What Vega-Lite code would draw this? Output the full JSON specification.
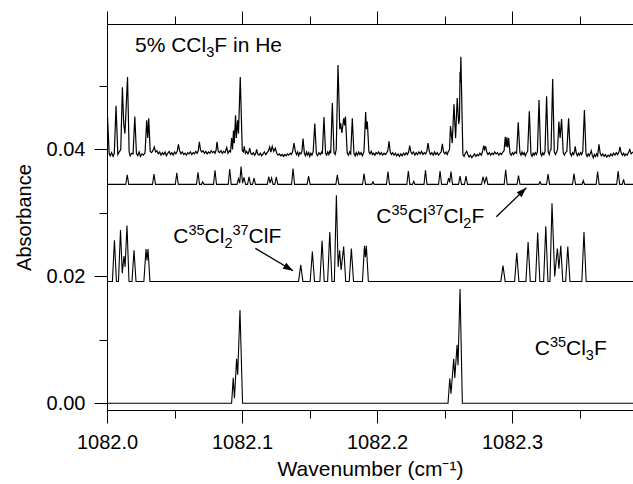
{
  "$schema": "https://vega.github.io/schema/vega-lite/v6.json",
  "autosize": "none",
  "width": 526,
  "height": 386,
  "padding": {"left": 107, "top": 24, "right": 0, "bottom": 74},
  "background": "white",
  "config": {
    "view": {"stroke": null},
    "axis": {"domainColor": "black", "domainWidth": 1, "tickColor": "black", "tickWidth": 1, "labelColor": "black", "labelFont": "Liberation Sans", "labelFontSize": 20, "titleFont": "Liberation Sans", "titleFontSize": 20, "titleFontWeight": "normal", "titleColor": "black", "grid": false, "labelFlush": false, "labelOverlap": false},
    "text": {"font": "Liberation Sans", "color": "black"}
  },
  "datasets": {
    "s4": [
      {"w":1082.0,"a":0},{"w":1082.0923,"a":0},{"w":1082.0935,"a":0.004},{"w":1082.0944,"a":0.0008},{"w":1082.096,"a":0.007},{"w":1082.0968,"a":0.0045},{"w":1082.0985,"a":0.0147},{"w":1082.1004,"a":0},
      {"w":1082.2526,"a":0},{"w":1082.2539,"a":0.0039},{"w":1082.2548,"a":0.0015},{"w":1082.2568,"a":0.007},{"w":1082.2576,"a":0.004},{"w":1082.2593,"a":0.0092},{"w":1082.26,"a":0.006},{"w":1082.2615,"a":0.018},{"w":1082.2632,"a":0},{"w":1082.3896,"a":0}
    ],
    "s3": [
      {"w":1082.0,"a":0.0192},{"w":1082.004,"a":0.0192},{"w":1082.0055,"a":0.0257},{"w":1082.007,"a":0.0192},{"w":1082.0085,"a":0.0192},{"w":1082.01,"a":0.0273},{"w":1082.0113,"a":0.0205},{"w":1082.0126,"a":0.0232},{"w":1082.0134,"a":0.0215},{"w":1082.0148,"a":0.028},{"w":1082.0163,"a":0.0192},
      {"w":1082.0185,"a":0.0192},{"w":1082.02,"a":0.0241},{"w":1082.0215,"a":0.0192},{"w":1082.0273,"a":0.0192},{"w":1082.0289,"a":0.0243},{"w":1082.0296,"a":0.0225},{"w":1082.0304,"a":0.0243},{"w":1082.0318,"a":0.0192},
      {"w":1082.1419,"a":0.0192},{"w":1082.1435,"a":0.0218},{"w":1082.1451,"a":0.0192},{"w":1082.1505,"a":0.0192},{"w":1082.1521,"a":0.0239},{"w":1082.1537,"a":0.0192},{"w":1082.1577,"a":0.0192},{"w":1082.1593,"a":0.0256},{"w":1082.1609,"a":0.0192},
      {"w":1082.1634,"a":0.0192},{"w":1082.165,"a":0.027},{"w":1082.1666,"a":0.0192},{"w":1082.1684,"a":0.0192},{"w":1082.1699,"a":0.0328},{"w":1082.1712,"a":0.0215},{"w":1082.1723,"a":0.0241},{"w":1082.1734,"a":0.021},{"w":1082.1753,"a":0.0247},{"w":1082.1768,"a":0.0192},
      {"w":1082.1794,"a":0.0192},{"w":1082.181,"a":0.0244},{"w":1082.1826,"a":0.0192},{"w":1082.1892,"a":0.0192},{"w":1082.1907,"a":0.0248},{"w":1082.1914,"a":0.023},{"w":1082.1921,"a":0.0248},{"w":1082.1936,"a":0.0192},
      {"w":1082.2917,"a":0.0192},{"w":1082.2933,"a":0.0217},{"w":1082.2949,"a":0.0192},{"w":1082.3019,"a":0.0192},{"w":1082.3035,"a":0.0237},{"w":1082.3051,"a":0.0192},{"w":1082.3103,"a":0.0192},{"w":1082.3119,"a":0.0254},{"w":1082.3135,"a":0.0192},
      {"w":1082.3174,"a":0.0192},{"w":1082.319,"a":0.0269},{"w":1082.3206,"a":0.0192},{"w":1082.3234,"a":0.0192},{"w":1082.325,"a":0.0279},{"w":1082.3266,"a":0.0192},{"w":1082.3281,"a":0.0192},{"w":1082.3296,"a":0.0315},{"w":1082.3316,"a":0.02},
      {"w":1082.3336,"a":0.0244},{"w":1082.3347,"a":0.0212},{"w":1082.3361,"a":0.0248},{"w":1082.3376,"a":0.0192},{"w":1082.3397,"a":0.0192},{"w":1082.3413,"a":0.0247},{"w":1082.3429,"a":0.0192},{"w":1082.3517,"a":0.0192},{"w":1082.3533,"a":0.027},{"w":1082.3549,"a":0.0192},{"w":1082.3896,"a":0.0192}
    ],
    "s2": [
      {"w":1082.0,"a":0.0345},{"w":1082.0139,"a":0.0345},{"w":1082.015,"a":0.036},{"w":1082.0161,"a":0.0345},{"w":1082.0337,"a":0.0345},{"w":1082.0348,"a":0.0361},{"w":1082.0359,"a":0.0345},
      {"w":1082.0506,"a":0.0345},{"w":1082.0517,"a":0.0363},{"w":1082.0528,"a":0.0345},{"w":1082.0663,"a":0.0345},{"w":1082.0674,"a":0.0364},{"w":1082.0685,"a":0.0345},{"w":1082.07,"a":0.0345},{"w":1082.0709,"a":0.0349},{"w":1082.0718,"a":0.0345},
      {"w":1082.0789,"a":0.0345},{"w":1082.08,"a":0.0367},{"w":1082.0811,"a":0.0345},{"w":1082.0898,"a":0.0345},{"w":1082.0909,"a":0.0369},{"w":1082.092,"a":0.0345},
      {"w":1082.0963,"a":0.0345},{"w":1082.0974,"a":0.0354},{"w":1082.0983,"a":0.0347},{"w":1082.0993,"a":0.0373},{"w":1082.1004,"a":0.0347},{"w":1082.1015,"a":0.0356},{"w":1082.1026,"a":0.0345},
      {"w":1082.1041,"a":0.0345},{"w":1082.1052,"a":0.0357},{"w":1082.1063,"a":0.0345},{"w":1082.1078,"a":0.0345},{"w":1082.1089,"a":0.0355},{"w":1082.11,"a":0.0345},
      {"w":1082.1187,"a":0.0345},{"w":1082.1198,"a":0.0357},{"w":1082.1208,"a":0.0347},{"w":1082.1219,"a":0.0355},{"w":1082.123,"a":0.0345},{"w":1082.1243,"a":0.0345},{"w":1082.1254,"a":0.0357},{"w":1082.1265,"a":0.0345},
      {"w":1082.1367,"a":0.0345},{"w":1082.1378,"a":0.037},{"w":1082.1389,"a":0.0345},{"w":1082.1482,"a":0.0345},{"w":1082.1493,"a":0.0358},{"w":1082.1504,"a":0.0345},
      {"w":1082.1695,"a":0.0345},{"w":1082.1706,"a":0.036},{"w":1082.1717,"a":0.0345},{"w":1082.1893,"a":0.0345},{"w":1082.1904,"a":0.0362},{"w":1082.1915,"a":0.0345},{"w":1082.1961,"a":0.0345},{"w":1082.197,"a":0.0349},{"w":1082.1979,"a":0.0345},
      {"w":1082.207,"a":0.0345},{"w":1082.2081,"a":0.0365},{"w":1082.2092,"a":0.0345},{"w":1082.2221,"a":0.0345},{"w":1082.2232,"a":0.0366},{"w":1082.2243,"a":0.0345},{"w":1082.2263,"a":0.0345},{"w":1082.2272,"a":0.035},{"w":1082.2281,"a":0.0345},
      {"w":1082.2348,"a":0.0345},{"w":1082.2359,"a":0.0367},{"w":1082.237,"a":0.0345},{"w":1082.2456,"a":0.0345},{"w":1082.2467,"a":0.0366},{"w":1082.2478,"a":0.0345},
      {"w":1082.2519,"a":0.0345},{"w":1082.253,"a":0.0355},{"w":1082.2538,"a":0.0348},{"w":1082.2548,"a":0.0365},{"w":1082.2559,"a":0.0345},{"w":1082.2604,"a":0.0345},{"w":1082.2615,"a":0.0358},{"w":1082.2626,"a":0.0345},
      {"w":1082.2648,"a":0.0345},{"w":1082.2659,"a":0.0358},{"w":1082.267,"a":0.0345},{"w":1082.2774,"a":0.0345},{"w":1082.2785,"a":0.0357},{"w":1082.2797,"a":0.0347},{"w":1082.281,"a":0.0357},{"w":1082.2821,"a":0.0345},
      {"w":1082.2942,"a":0.0345},{"w":1082.2953,"a":0.0368},{"w":1082.2964,"a":0.0345},{"w":1082.3037,"a":0.0345},{"w":1082.3048,"a":0.0359},{"w":1082.3059,"a":0.0345},{"w":1082.3198,"a":0.0345},{"w":1082.3207,"a":0.0349},{"w":1082.3216,"a":0.0345},
      {"w":1082.3256,"a":0.0345},{"w":1082.3267,"a":0.0361},{"w":1082.3278,"a":0.0345},{"w":1082.3448,"a":0.0345},{"w":1082.3459,"a":0.0362},{"w":1082.347,"a":0.0345},{"w":1082.3519,"a":0.0345},{"w":1082.3528,"a":0.0351},{"w":1082.3537,"a":0.0345},
      {"w":1082.3623,"a":0.0345},{"w":1082.3634,"a":0.0365},{"w":1082.3645,"a":0.0345},{"w":1082.3775,"a":0.0345},{"w":1082.3786,"a":0.0366},{"w":1082.3797,"a":0.0345},{"w":1082.3817,"a":0.0345},{"w":1082.3826,"a":0.0353},{"w":1082.3835,"a":0.0345},{"w":1082.3896,"a":0.0345}
    ],
    "s1": [
      {"w":1082.0,"a":0.044},{"w":1082.0004,"a":0.0451},{"w":1082.0016,"a":0.0393},{"w":1082.0024,"a":0.039},{"w":1082.0034,"a":0.0395},{"w":1082.0045,"a":0.0389},{"w":1082.0054,"a":0.0394},{"w":1082.0067,"a":0.0469},{"w":1082.008,"a":0.0392},{"w":1082.009,"a":0.0396},{"w":1082.0102,"a":0.04},{"w":1082.0114,"a":0.0498},{"w":1082.0124,"a":0.044},{"w":1082.0133,"a":0.0425},{"w":1082.0152,"a":0.0514},{"w":1082.0164,"a":0.0396},{"w":1082.0172,"a":0.039},{"w":1082.0182,"a":0.0394},{"w":1082.0193,"a":0.0393},{"w":1082.0206,"a":0.0452},{"w":1082.0218,"a":0.0394},{"w":1082.0228,"a":0.039},{"w":1082.0238,"a":0.0396},{"w":1082.0248,"a":0.0389},{"w":1082.0259,"a":0.0393},{"w":1082.027,"a":0.0391},{"w":1082.0282,"a":0.0395},{"w":1082.0294,"a":0.0446},{"w":1082.0302,"a":0.0418},{"w":1082.0309,"a":0.0449},{"w":1082.032,"a":0.0397},
      {"w":1082.033,"a":0.0395},{"w":1082.034,"a":0.0398},{"w":1082.035,"a":0.0404},{"w":1082.036,"a":0.0396},{"w":1082.037,"a":0.0398},{"w":1082.038,"a":0.0393},{"w":1082.039,"a":0.0396},{"w":1082.04,"a":0.0391},{"w":1082.041,"a":0.0395},{"w":1082.042,"a":0.0392},{"w":1082.043,"a":0.0396},{"w":1082.044,"a":0.039},{"w":1082.045,"a":0.0394},{"w":1082.046,"a":0.0397},{"w":1082.047,"a":0.0392},{"w":1082.048,"a":0.0395},{"w":1082.049,"a":0.0391},{"w":1082.05,"a":0.0396},{"w":1082.051,"a":0.0393},{"w":1082.052,"a":0.0397},{"w":1082.0529,"a":0.0408},{"w":1082.0538,"a":0.0398},{"w":1082.0548,"a":0.0393},{"w":1082.0558,"a":0.0396},{"w":1082.0568,"a":0.0392},{"w":1082.0578,"a":0.0394},{"w":1082.0588,"a":0.0391},{"w":1082.0598,"a":0.0395},{"w":1082.0608,"a":0.0393},{"w":1082.0618,"a":0.0396},{"w":1082.0628,"a":0.0392},{"w":1082.0638,"a":0.0395},{"w":1082.0648,"a":0.0393},{"w":1082.0658,"a":0.0397},{"w":1082.0668,"a":0.0394},{"w":1082.0676,"a":0.0398},{"w":1082.0684,"a":0.0412},{"w":1082.0693,"a":0.0399},{"w":1082.0702,"a":0.0396},{"w":1082.0712,"a":0.0398},{"w":1082.0722,"a":0.0394},{"w":1082.0732,"a":0.0397},{"w":1082.0742,"a":0.0393},{"w":1082.0752,"a":0.0396},{"w":1082.0762,"a":0.0394},{"w":1082.0772,"a":0.0398},{"w":1082.0782,"a":0.0395},{"w":1082.0792,"a":0.0397},{"w":1082.08,"a":0.0394},{"w":1082.0808,"a":0.0399},{"w":1082.0815,"a":0.0412},{"w":1082.0824,"a":0.0397},{"w":1082.0834,"a":0.0395},{"w":1082.0844,"a":0.0398},{"w":1082.0854,"a":0.0394},{"w":1082.0864,"a":0.0397},{"w":1082.0874,"a":0.0395},{"w":1082.0887,"a":0.0403},{"w":1082.0896,"a":0.0394},{"w":1082.0906,"a":0.0398},{"w":1082.0915,"a":0.0396},
      {"w":1082.0923,"a":0.0418},{"w":1082.093,"a":0.04},{"w":1082.0937,"a":0.043},{"w":1082.0943,"a":0.041},{"w":1082.0952,"a":0.0454},{"w":1082.0958,"a":0.0418},{"w":1082.0967,"a":0.0446},{"w":1082.0974,"a":0.0425},{"w":1082.0987,"a":0.0514},{"w":1082.1002,"a":0.0398},{"w":1082.101,"a":0.0396},{"w":1082.1017,"a":0.0405},{"w":1082.1025,"a":0.0394},{"w":1082.1034,"a":0.0397},{"w":1082.1044,"a":0.0393},{"w":1082.105,"a":0.0396},{"w":1082.1057,"a":0.0402},{"w":1082.1065,"a":0.0394},{"w":1082.1074,"a":0.0392},{"w":1082.1084,"a":0.0395},{"w":1082.1094,"a":0.0391},{"w":1082.1102,"a":0.0394},{"w":1082.1108,"a":0.04},{"w":1082.1116,"a":0.0393},{"w":1082.1126,"a":0.0391},{"w":1082.1136,"a":0.0394},{"w":1082.1146,"a":0.039},{"w":1082.1156,"a":0.0393},{"w":1082.1166,"a":0.0396},{"w":1082.1176,"a":0.0392},{"w":1082.1186,"a":0.0395},{"w":1082.1196,"a":0.0398},{"w":1082.1205,"a":0.0404},{"w":1082.1214,"a":0.0396},{"w":1082.1224,"a":0.0405},{"w":1082.1235,"a":0.0397},{"w":1082.1247,"a":0.0402},{"w":1082.1257,"a":0.0394},{"w":1082.1267,"a":0.0391},{"w":1082.1277,"a":0.0393},{"w":1082.1287,"a":0.039},{"w":1082.1297,"a":0.0392},{"w":1082.1307,"a":0.0389},{"w":1082.1317,"a":0.0392},{"w":1082.1327,"a":0.039},{"w":1082.1337,"a":0.0393},{"w":1082.1347,"a":0.0391},{"w":1082.1357,"a":0.0394},{"w":1082.1366,"a":0.0392},{"w":1082.1374,"a":0.0396},{"w":1082.1385,"a":0.041},{"w":1082.1395,"a":0.0397},{"w":1082.1404,"a":0.0392},{"w":1082.1412,"a":0.0396},{"w":1082.142,"a":0.039},{"w":1082.1428,"a":0.0395},{"w":1082.1436,"a":0.0393},{"w":1082.1444,"a":0.0397},{"w":1082.1452,"a":0.0417},{"w":1082.1462,"a":0.0394},{"w":1082.147,"a":0.039},{"w":1082.1478,"a":0.0396},{"w":1082.1486,"a":0.0391},{"w":1082.1494,"a":0.0395},{"w":1082.1502,"a":0.0389},{"w":1082.151,"a":0.0394},{"w":1082.1518,"a":0.0391},{"w":1082.1527,"a":0.0396},
      {"w":1082.1539,"a":0.0441},{"w":1082.1551,"a":0.0393},{"w":1082.156,"a":0.039},{"w":1082.157,"a":0.0395},{"w":1082.158,"a":0.0392},{"w":1082.159,"a":0.0396},{"w":1082.1595,"a":0.0393},{"w":1082.1607,"a":0.0451},{"w":1082.1619,"a":0.0394},{"w":1082.1627,"a":0.0391},{"w":1082.1635,"a":0.0396},{"w":1082.1643,"a":0.0392},{"w":1082.165,"a":0.0397},{"w":1082.1657,"a":0.0394},{"w":1082.1669,"a":0.0473},{"w":1082.1681,"a":0.0395},{"w":1082.169,"a":0.0392},{"w":1082.1698,"a":0.04},{"w":1082.1711,"a":0.0533},{"w":1082.1724,"a":0.0432},{"w":1082.1731,"a":0.0441},{"w":1082.174,"a":0.0426},{"w":1082.1753,"a":0.0449},{"w":1082.176,"a":0.0438},{"w":1082.1766,"a":0.0452},{"w":1082.1779,"a":0.0395},{"w":1082.1788,"a":0.0391},{"w":1082.1797,"a":0.0396},{"w":1082.1805,"a":0.0393},{"w":1082.1817,"a":0.0449},{"w":1082.1829,"a":0.0394},{"w":1082.1838,"a":0.039},{"w":1082.1846,"a":0.0395},{"w":1082.1855,"a":0.0391},{"w":1082.1864,"a":0.0396},{"w":1082.1873,"a":0.0392},{"w":1082.1882,"a":0.0395},{"w":1082.1891,"a":0.039},{"w":1082.1903,"a":0.0396},{"w":1082.1916,"a":0.0459},{"w":1082.1921,"a":0.0432},{"w":1082.1928,"a":0.0444},{"w":1082.194,"a":0.0396},{"w":1082.1948,"a":0.0393},{"w":1082.1957,"a":0.0397},{"w":1082.1966,"a":0.0392},{"w":1082.1975,"a":0.0394},{"w":1082.1984,"a":0.0391},{"w":1082.1993,"a":0.0395},{"w":1082.2002,"a":0.0393},{"w":1082.2012,"a":0.0396},{"w":1082.2022,"a":0.0392},{"w":1082.2032,"a":0.0395},{"w":1082.2042,"a":0.0391},{"w":1082.2052,"a":0.0394},{"w":1082.2062,"a":0.0392},{"w":1082.2072,"a":0.0395},{"w":1082.208,"a":0.0398},{"w":1082.2089,"a":0.0413},{"w":1082.2098,"a":0.0396},{"w":1082.2107,"a":0.0392},{"w":1082.2116,"a":0.0395},{"w":1082.2126,"a":0.0391},{"w":1082.2136,"a":0.0394},{"w":1082.2146,"a":0.039},{"w":1082.2156,"a":0.0393},{"w":1082.2166,"a":0.0389},{"w":1082.2176,"a":0.0393},{"w":1082.2186,"a":0.039},{"w":1082.2196,"a":0.0394},{"w":1082.2206,"a":0.0391},{"w":1082.2216,"a":0.0395},{"w":1082.2226,"a":0.0392},{"w":1082.2234,"a":0.0396},{"w":1082.2242,"a":0.0406},{"w":1082.2251,"a":0.0396},{"w":1082.226,"a":0.0393},{"w":1082.227,"a":0.0396},{"w":1082.228,"a":0.0391},{"w":1082.229,"a":0.0395},{"w":1082.23,"a":0.0392},{"w":1082.231,"a":0.0396},{"w":1082.232,"a":0.0393},{"w":1082.233,"a":0.0397},{"w":1082.234,"a":0.0392},{"w":1082.235,"a":0.0395},{"w":1082.236,"a":0.0393},{"w":1082.2369,"a":0.0397},{"w":1082.2378,"a":0.041},{"w":1082.2387,"a":0.0397},{"w":1082.2396,"a":0.0392},{"w":1082.2406,"a":0.0395},{"w":1082.2416,"a":0.0391},{"w":1082.2426,"a":0.0396},{"w":1082.2436,"a":0.0392},{"w":1082.2446,"a":0.0395},{"w":1082.2456,"a":0.0391},{"w":1082.2466,"a":0.0394},{"w":1082.2475,"a":0.0396},{"w":1082.2484,"a":0.0409},{"w":1082.2493,"a":0.0396},{"w":1082.2502,"a":0.0393},{"w":1082.2511,"a":0.0396},{"w":1082.252,"a":0.0392},{"w":1082.2529,"a":0.0397},{"w":1082.2537,"a":0.04},
      {"w":1082.2544,"a":0.0437},{"w":1082.2557,"a":0.041},{"w":1082.257,"a":0.0471},{"w":1082.2582,"a":0.0418},{"w":1082.2594,"a":0.0481},{"w":1082.2605,"a":0.044},{"w":1082.2611,"a":0.0448},{"w":1082.2615,"a":0.0522},{"w":1082.2617,"a":0.0505},{"w":1082.2621,"a":0.0546},{"w":1082.2636,"a":0.0392},{"w":1082.2645,"a":0.0389},{"w":1082.2654,"a":0.0394},{"w":1082.2664,"a":0.0397},{"w":1082.2673,"a":0.0392},{"w":1082.2682,"a":0.0388},{"w":1082.2692,"a":0.0391},{"w":1082.2702,"a":0.0387},{"w":1082.2712,"a":0.039},{"w":1082.2722,"a":0.0393},{"w":1082.2732,"a":0.0389},{"w":1082.2742,"a":0.0392},{"w":1082.2752,"a":0.039},{"w":1082.2762,"a":0.0394},{"w":1082.2772,"a":0.0391},{"w":1082.2781,"a":0.0396},{"w":1082.279,"a":0.0406},{"w":1082.2797,"a":0.04},{"w":1082.2804,"a":0.0405},{"w":1082.2813,"a":0.0396},{"w":1082.2822,"a":0.0392},{"w":1082.2832,"a":0.0395},{"w":1082.2842,"a":0.0391},{"w":1082.2852,"a":0.0394},{"w":1082.2862,"a":0.0392},{"w":1082.2872,"a":0.0396},{"w":1082.2882,"a":0.0393},{"w":1082.2892,"a":0.0395},{"w":1082.2902,"a":0.0391},{"w":1082.2912,"a":0.0394},{"w":1082.2922,"a":0.0392},{"w":1082.2932,"a":0.0396},{"w":1082.2941,"a":0.0398},{"w":1082.295,"a":0.042},{"w":1082.2956,"a":0.0404},{"w":1082.2962,"a":0.0419},{"w":1082.2968,"a":0.0403},{"w":1082.2975,"a":0.0418},{"w":1082.2985,"a":0.0394},{"w":1082.2994,"a":0.0391},{"w":1082.3003,"a":0.0395},{"w":1082.3012,"a":0.0392},{"w":1082.3022,"a":0.0396},{"w":1082.3034,"a":0.0394},{"w":1082.3046,"a":0.0443},{"w":1082.3058,"a":0.0395},{"w":1082.3066,"a":0.0391},{"w":1082.3074,"a":0.0396},{"w":1082.3082,"a":0.0392},{"w":1082.309,"a":0.0395},{"w":1082.3098,"a":0.039},{"w":1082.3106,"a":0.0394},{"w":1082.3116,"a":0.0397},{"w":1082.3128,"a":0.046},{"w":1082.314,"a":0.0393},{"w":1082.3148,"a":0.0389},{"w":1082.3156,"a":0.0394},{"w":1082.3164,"a":0.0391},{"w":1082.3172,"a":0.0395},{"w":1082.318,"a":0.0392},{"w":1082.3188,"a":0.0396},{"w":1082.32,"a":0.0478},{"w":1082.3212,"a":0.0394},{"w":1082.322,"a":0.039},{"w":1082.3228,"a":0.0395},{"w":1082.3236,"a":0.0392},{"w":1082.3244,"a":0.0396},{"w":1082.3256,"a":0.0484},{"w":1082.3268,"a":0.0396},{"w":1082.3276,"a":0.0392},{"w":1082.3282,"a":0.0398},{"w":1082.3289,"a":0.04},{"w":1082.3301,"a":0.0511},{"w":1082.3313,"a":0.0396},{"w":1082.3322,"a":0.0392},{"w":1082.333,"a":0.0396},{"w":1082.3337,"a":0.04},{"w":1082.3347,"a":0.0444},{"w":1082.3356,"a":0.0418},{"w":1082.3367,"a":0.0448},{"w":1082.3379,"a":0.0395},{"w":1082.3388,"a":0.0391},{"w":1082.3396,"a":0.0395},{"w":1082.3406,"a":0.0397},{"w":1082.3419,"a":0.0449},{"w":1082.3431,"a":0.0394},{"w":1082.344,"a":0.039},{"w":1082.3448,"a":0.0395},{"w":1082.3456,"a":0.0392},{"w":1082.3462,"a":0.0396},{"w":1082.3468,"a":0.0405},{"w":1082.3476,"a":0.0394},{"w":1082.3484,"a":0.039},{"w":1082.3492,"a":0.0394},{"w":1082.35,"a":0.0391},{"w":1082.3508,"a":0.0395},{"w":1082.3516,"a":0.0392},{"w":1082.3524,"a":0.0397},{"w":1082.3536,"a":0.0462},{"w":1082.3548,"a":0.0393},{"w":1082.3556,"a":0.0389},{"w":1082.3564,"a":0.0393},{"w":1082.3572,"a":0.039},{"w":1082.358,"a":0.0394},{"w":1082.3587,"a":0.0398},{"w":1082.3594,"a":0.0391},{"w":1082.3602,"a":0.0387},{"w":1082.361,"a":0.0392},{"w":1082.3618,"a":0.0389},{"w":1082.3626,"a":0.0393},{"w":1082.3634,"a":0.039},{"w":1082.3644,"a":0.0408},{"w":1082.3653,"a":0.0394},{"w":1082.3662,"a":0.039},{"w":1082.3672,"a":0.0393},{"w":1082.3682,"a":0.0389},{"w":1082.3692,"a":0.0392},{"w":1082.3702,"a":0.0388},{"w":1082.3712,"a":0.0391},{"w":1082.3722,"a":0.0389},{"w":1082.3732,"a":0.0393},{"w":1082.3742,"a":0.039},{"w":1082.3752,"a":0.0394},{"w":1082.3762,"a":0.0391},{"w":1082.3772,"a":0.0395},{"w":1082.3782,"a":0.0392},{"w":1082.3792,"a":0.0396},{"w":1082.3799,"a":0.0404},{"w":1082.3808,"a":0.0395},{"w":1082.3817,"a":0.0391},{"w":1082.3826,"a":0.0394},{"w":1082.3835,"a":0.039},{"w":1082.3844,"a":0.0393},{"w":1082.3853,"a":0.0391},{"w":1082.3862,"a":0.0395},{"w":1082.3872,"a":0.04},{"w":1082.3882,"a":0.0393},{"w":1082.3896,"a":0.0396}
    ],
    "labels": [
      {"k":"main","w":1082.02074,"a":0.0554,"t":"5% CCl"},
      {"k":"sub","w":1082.07348,"a":0.0554,"t":"3"},
      {"k":"main","w":1082.07948,"a":0.0554,"t":"F in He"},
      {"k":"main","w":1082.04911,"a":0.0252,"t":"C"},
      {"k":"sup","w":1082.06037,"a":0.0252,"t":"35"},
      {"k":"main","w":1082.0723,"a":0.0252,"t":"Cl"},
      {"k":"sub","w":1082.08696,"a":0.0252,"t":"2"},
      {"k":"sup","w":1082.09296,"a":0.0252,"t":"37"},
      {"k":"main","w":1082.10489,"a":0.0252,"t":"ClF"},
      {"k":"main","w":1082.19948,"a":0.02844,"t":"C"},
      {"k":"sup","w":1082.21074,"a":0.02844,"t":"35"},
      {"k":"main","w":1082.22267,"a":0.02844,"t":"Cl"},
      {"k":"sup","w":1082.23733,"a":0.02844,"t":"37"},
      {"k":"main","w":1082.24926,"a":0.02844,"t":"Cl"},
      {"k":"sub","w":1082.26393,"a":0.02844,"t":"2"},
      {"k":"main","w":1082.26993,"a":0.02844,"t":"F"},
      {"k":"main","w":1082.31681,"a":0.00761,"t":"C"},
      {"k":"sup","w":1082.32807,"a":0.00761,"t":"35"},
      {"k":"main","w":1082.34,"a":0.00761,"t":"Cl"},
      {"k":"sub","w":1082.35467,"a":0.00761,"t":"3"},
      {"k":"main","w":1082.36067,"a":0.00761,"t":"F"}
    ],
    "arrows": [
      {"id":1,"w":1082.1099,"a":0.02441,"w2":1082.1378,"a2":0.02088},
      {"id":2,"w":1082.2884,"a":0.02939,"w2":1082.3106,"a2":0.03395}
    ]
  },
  "layer": [
    {
      "data": {"name": "s4"},
      "mark": {"type": "line", "color": "black", "strokeWidth": 1.1, "clip": true},
      "encoding": {
        "x": {"field": "w", "type": "quantitative", "scale": {"domain": [1082.0, 1082.3896], "nice": false, "zero": false},
          "axis": {"orient": "bottom", "values": [1082.0, 1082.1, 1082.2, 1082.3], "format": ".1f", "tickSize": 13, "labelPadding": 9, "title": "Wavenumber (cm⁻¹)", "titleFontSize": 21, "titleX": 263, "titleY": 65, "titleBaseline": "alphabetic", "titleAlign": "center"}},
        "y": {"field": "a", "type": "quantitative", "scale": {"domain": [-0.00106, 0.05977], "nice": false, "zero": false},
          "axis": {"orient": "left", "values": [0, 0.02, 0.04], "format": ".2f", "tickSize": 13, "labelPadding": 9, "title": "Absorbance", "titleX": -77, "titleY": 193, "titleAngle": -90, "titleBaseline": "alphabetic", "titleAlign": "center"}}
      }
    },
    {
      "data": {"name": "s3"},
      "mark": {"type": "line", "color": "black", "strokeWidth": 1.1, "clip": true},
      "encoding": {
        "x": {"field": "w", "type": "quantitative", "scale": {"domain": [1082.0, 1082.3896], "nice": false, "zero": false},
          "axis": {"orient": "top", "values": [1082.0, 1082.1, 1082.2, 1082.3], "labels": false, "tickSize": 13, "title": null}},
        "y": {"field": "a", "type": "quantitative", "scale": {"domain": [-0.00106, 0.05977], "nice": false, "zero": false},
          "axis": {"orient": "left", "values": [0.01, 0.03, 0.05], "labels": false, "domain": false, "tickSize": 8, "title": null}}
      }
    },
    {
      "data": {"name": "s2"},
      "mark": {"type": "line", "color": "black", "strokeWidth": 1.1, "clip": true},
      "encoding": {
        "x": {"field": "w", "type": "quantitative", "scale": {"domain": [1082.0, 1082.3896], "nice": false, "zero": false},
          "axis": {"orient": "bottom", "values": [1082.05, 1082.15, 1082.25, 1082.35], "labels": false, "domain": false, "tickSize": 8, "title": null}},
        "y": {"field": "a", "type": "quantitative", "scale": {"domain": [-0.00106, 0.05977], "nice": false, "zero": false}, "axis": null}
      }
    },
    {
      "data": {"name": "s1"},
      "mark": {"type": "line", "color": "black", "strokeWidth": 1.2, "clip": true},
      "encoding": {
        "x": {"field": "w", "type": "quantitative", "scale": {"domain": [1082.0, 1082.3896], "nice": false, "zero": false},
          "axis": {"orient": "top", "values": [1082.05, 1082.15, 1082.25, 1082.35], "labels": false, "domain": false, "tickSize": 8, "title": null}},
        "y": {"field": "a", "type": "quantitative", "scale": {"domain": [-0.00106, 0.05977], "nice": false, "zero": false}, "axis": null}
      }
    },
    {
      "data": {"name": "labels"},
      "transform": [{"filter": "datum.k == 'main'"}],
      "mark": {"type": "text", "align": "left", "baseline": "alphabetic", "fontSize": 21, "font": "Liberation Sans", "color": "black"},
      "encoding": {
        "x": {"field": "w", "type": "quantitative", "scale": {"domain": [1082.0, 1082.3896], "nice": false, "zero": false}, "axis": null},
        "y": {"field": "a", "type": "quantitative", "scale": {"domain": [-0.00106, 0.05977], "nice": false, "zero": false}, "axis": null},
        "text": {"field": "t"}
      }
    },
    {
      "data": {"name": "labels"},
      "transform": [{"filter": "datum.k == 'sup'"}],
      "mark": {"type": "text", "align": "left", "baseline": "alphabetic", "fontSize": 14.5, "dy": -8, "font": "Liberation Sans", "color": "black"},
      "encoding": {
        "x": {"field": "w", "type": "quantitative", "scale": {"domain": [1082.0, 1082.3896], "nice": false, "zero": false}, "axis": null},
        "y": {"field": "a", "type": "quantitative", "scale": {"domain": [-0.00106, 0.05977], "nice": false, "zero": false}, "axis": null},
        "text": {"field": "t"}
      }
    },
    {
      "data": {"name": "labels"},
      "transform": [{"filter": "datum.k == 'sub'"}],
      "mark": {"type": "text", "align": "left", "baseline": "alphabetic", "fontSize": 14.5, "dy": 5, "font": "Liberation Sans", "color": "black"},
      "encoding": {
        "x": {"field": "w", "type": "quantitative", "scale": {"domain": [1082.0, 1082.3896], "nice": false, "zero": false}, "axis": null},
        "y": {"field": "a", "type": "quantitative", "scale": {"domain": [-0.00106, 0.05977], "nice": false, "zero": false}, "axis": null},
        "text": {"field": "t"}
      }
    },
    {
      "data": {"name": "arrows"},
      "mark": {"type": "rule", "color": "black", "strokeWidth": 1.3},
      "encoding": {
        "x": {"field": "w", "type": "quantitative", "scale": {"domain": [1082.0, 1082.3896], "nice": false, "zero": false}, "axis": null},
        "y": {"field": "a", "type": "quantitative", "scale": {"domain": [-0.00106, 0.05977], "nice": false, "zero": false}, "axis": null},
        "x2": {"field": "w2"}, "y2": {"field": "a2"}
      }
    },
    {
      "data": {"name": "arrows"},
      "transform": [{"filter": "datum.id == 1"}],
      "mark": {"type": "point", "shape": "M0,0L-2,-0.7L-2,0.7Z", "size": 100, "filled": true, "color": "black", "opacity": 1, "angle": 30.7},
      "encoding": {
        "x": {"field": "w2", "type": "quantitative", "scale": {"domain": [1082.0, 1082.3896], "nice": false, "zero": false}, "axis": null},
        "y": {"field": "a2", "type": "quantitative", "scale": {"domain": [-0.00106, 0.05977], "nice": false, "zero": false}, "axis": null}
      }
    },
    {
      "data": {"name": "arrows"},
      "transform": [{"filter": "datum.id == 2"}],
      "mark": {"type": "point", "shape": "M0,0L-2,-0.7L-2,0.7Z", "size": 100, "filled": true, "color": "black", "opacity": 1, "angle": -44},
      "encoding": {
        "x": {"field": "w2", "type": "quantitative", "scale": {"domain": [1082.0, 1082.3896], "nice": false, "zero": false}, "axis": null},
        "y": {"field": "a2", "type": "quantitative", "scale": {"domain": [-0.00106, 0.05977], "nice": false, "zero": false}, "axis": null}
      }
    }
  ],
  "resolve": {"axis": {"x": "independent", "y": "independent"}}
}
